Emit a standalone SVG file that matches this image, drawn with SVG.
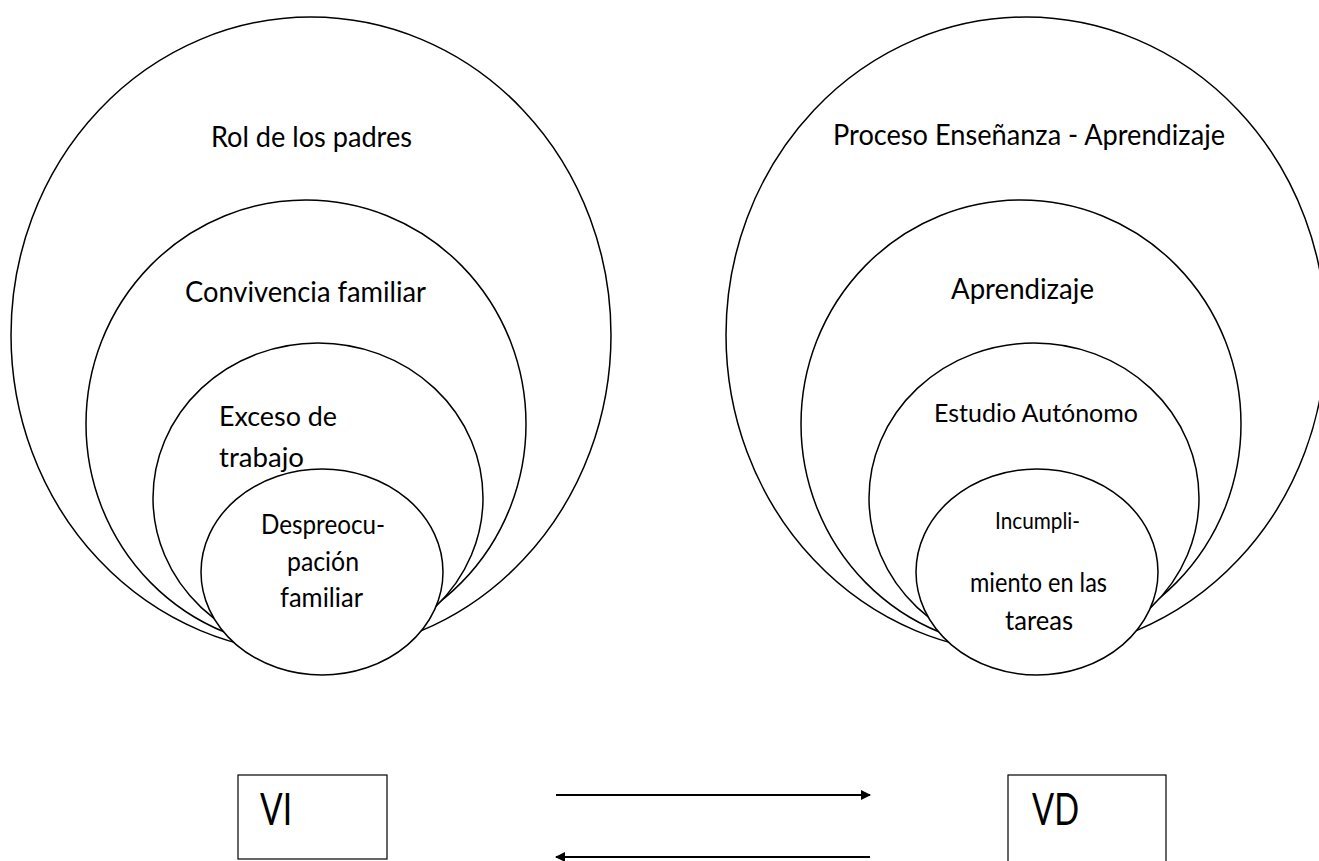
<svg xmlns="http://www.w3.org/2000/svg" width="1319" height="861" viewBox="0 0 1319 861">
  <defs>
    <style>
      .ring { fill: #ffffff; stroke: #000000; stroke-width: 1.5; }
      .box { fill: #ffffff; stroke: #000000; stroke-width: 1.2; }
      .lbl { font-family: Lato, "Liberation Sans", sans-serif; fill: #000000; }
      .conn { stroke: #000000; stroke-width: 2; fill: none; }
    </style>
    <marker id="arrow" viewBox="0 0 10 10" refX="9" refY="5" markerWidth="5" markerHeight="5" orient="auto" markerUnits="strokeWidth">
      <path d="M0,0 L10,5 L0,10 Z" fill="#000000"/>
    </marker>
  </defs>
  <rect x="0" y="0" width="1319" height="861" fill="#ffffff"/>

  <!-- Left group: VI -->
  <g id="rol-padres">
    <ellipse class="ring" cx="311" cy="335" rx="300" ry="318"/>
    <text class="lbl" x="211" y="147" font-size="29" textLength="201" lengthAdjust="spacingAndGlyphs">Rol de los padres</text>
  </g>
  <g id="convivencia-familiar">
    <ellipse class="ring" cx="306" cy="424" rx="220" ry="224"/>
    <text class="lbl" x="185" y="302" font-size="29" textLength="241" lengthAdjust="spacingAndGlyphs">Convivencia familiar</text>
  </g>
  <g id="exceso-trabajo">
    <ellipse class="ring" cx="318" cy="498" rx="165" ry="155"/>
    <text class="lbl" x="219" y="426" font-size="27" textLength="118" lengthAdjust="spacingAndGlyphs">Exceso de</text>
    <text class="lbl" x="219" y="467" font-size="27" textLength="85" lengthAdjust="spacingAndGlyphs">trabajo</text>
  </g>
  <g id="despreocupacion-familiar">
    <ellipse class="ring" cx="322" cy="572" rx="121" ry="103"/>
    <text class="lbl" x="261" y="534" font-size="26" textLength="124" lengthAdjust="spacingAndGlyphs">Despreocu-</text>
    <text class="lbl" x="287" y="571" font-size="26" textLength="72" lengthAdjust="spacingAndGlyphs">pación</text>
    <text class="lbl" x="280" y="607" font-size="26" textLength="83" lengthAdjust="spacingAndGlyphs">familiar</text>
  </g>

  <!-- Right group: VD -->
  <g id="proceso-ensenanza">
    <ellipse class="ring" cx="1026" cy="335" rx="300" ry="318"/>
    <text class="lbl" x="833" y="145" font-size="28" textLength="392" lengthAdjust="spacingAndGlyphs">Proceso Enseñanza - Aprendizaje</text>
  </g>
  <g id="aprendizaje">
    <ellipse class="ring" cx="1021" cy="424" rx="220" ry="224"/>
    <text class="lbl" x="951" y="299" font-size="29" textLength="143" lengthAdjust="spacingAndGlyphs">Aprendizaje</text>
  </g>
  <g id="estudio-autonomo">
    <ellipse class="ring" cx="1034" cy="498" rx="165" ry="155"/>
    <text class="lbl" x="934" y="422" font-size="25.5" textLength="204" lengthAdjust="spacingAndGlyphs">Estudio Autónomo</text>
  </g>
  <g id="incumplimiento-tareas">
    <ellipse class="ring" cx="1037" cy="572" rx="121" ry="103"/>
    <text class="lbl" x="995" y="529" font-size="23" textLength="85" lengthAdjust="spacingAndGlyphs">Incumpli-</text>
    <text class="lbl" x="970" y="592" font-size="26" textLength="137" lengthAdjust="spacingAndGlyphs">miento en las</text>
    <text class="lbl" x="1005" y="630" font-size="26" textLength="68" lengthAdjust="spacingAndGlyphs">tareas</text>
  </g>

  <!-- Boxes -->
  <g id="vi">
    <rect class="box" x="238" y="775" width="149" height="84"/>
    <text class="lbl" x="260" y="825" font-size="44" textLength="32" lengthAdjust="spacingAndGlyphs">VI</text>
  </g>
  <g id="vd">
    <rect class="box" x="1008" y="775" width="158" height="90"/>
    <text class="lbl" x="1032" y="825" font-size="44" textLength="47" lengthAdjust="spacingAndGlyphs">VD</text>
  </g>

  <!-- Connectors -->
  <g id="connectors">
    <line class="conn" x1="556" y1="795" x2="870" y2="795" marker-end="url(#arrow)"/>
    <line class="conn" x1="870" y1="857" x2="556" y2="857" marker-end="url(#arrow)"/>
  </g>
</svg>
